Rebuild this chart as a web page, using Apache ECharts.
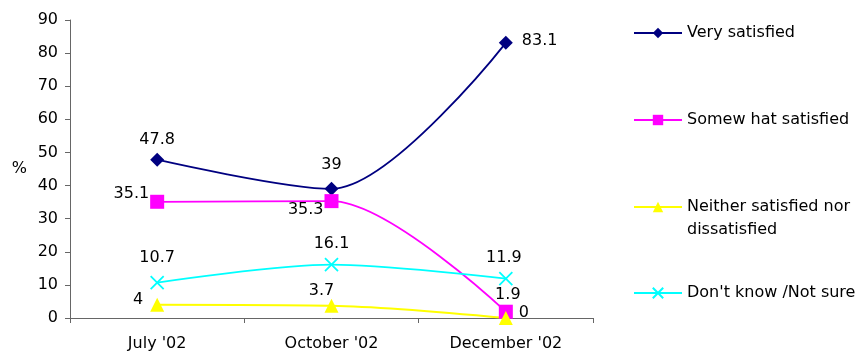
<!DOCTYPE html>
<html>
<head>
<meta charset="utf-8">
<script src="https://cdn.jsdelivr.net/npm/echarts@6/dist/echarts.min.js"></script>
<style>
  html, body { margin: 0; padding: 0; background: #ffffff; }
  #chart { width: 860px; height: 356px; }
</style>
</head>
<body>
<div id="chart"></div>
<script>
// Survey waves
var categories = ["July '02", "October '02", "December '02"];

// Satisfaction shares, %
var verySatisfied = [47.8, 39, 83.1];
var somewhatSatisfied = [35.1, 35.3, 1.9];
var neitherSatisfied = [4, 3.7, 0];
var dontKnow = [10.7, 16.1, 11.9];

var seriesNames = [
  'Very satisfied',
  'Somew hat satisfied',
  'Neither satisfied nor dissatisfied',
  "Don't know /Not sure"
];

var yTicks = { min: 0, max: 90, interval: 10 };

var FONT = '"DejaVu Sans", Verdana, sans-serif';
var FS = 16;
var LW = 1.8;
var crossPath = 'path://M0,0 L10,10 M10,0 L0,10';

// Per-point label placement: [position, distance, offsetX, offsetY]
function buildData(values, places) {
  return values.map(function (v, i) {
    var p = places[i];
    return {
      value: v,
      label: { position: p[0], distance: p[1], offset: [p[2], p[3]] }
    };
  });
}

var chart = echarts.init(document.getElementById('chart'), null, { renderer: 'canvas' });

var labelBase = {
  show: true,
  color: '#000',
  fontSize: FS,
  fontFamily: FONT
};

var legendText = { fontSize: FS, color: '#000', fontFamily: FONT };

// The long legend entry wraps after "nor"; the first line sits beside the icon
var wrapAt = 'Neither satisfied nor';

var option = {
  backgroundColor: '#ffffff',
  animation: false,
  textStyle: { fontFamily: FONT },
  grid: { left: 70, right: 267, top: 20, bottom: 38 },
  legend: [
    { top: 25, data: [seriesNames[0]] },
    { top: 112, data: [seriesNames[1]] },
    {
      top: 199, data: [seriesNames[2]],
      formatter: function (name) { return name.indexOf(wrapAt) === 0 ? wrapAt : name; }
    },
    { top: 285, data: [seriesNames[3]] }
  ].map(function (l) {
    return Object.assign({
      left: 633,
      orient: 'vertical',
      padding: 0,
      itemWidth: 48,
      itemHeight: 13,
      itemGap: 0,
      selectedMode: false,
      textStyle: legendText
    }, l);
  }),
  graphic: [
    {
      type: 'text',
      left: 687,
      top: 222,
      style: {
        text: seriesNames[2].slice(wrapAt.length + 1),
        fill: '#000',
        font: FS + 'px ' + FONT
      }
    }
  ],
  xAxis: {
    type: 'category',
    data: categories,
    boundaryGap: true,
    axisLine: { lineStyle: { color: '#666', width: 1 } },
    axisTick: { show: true, length: 5, inside: false, lineStyle: { color: '#666' } },
    axisLabel: { color: '#000', fontSize: FS, fontFamily: FONT, margin: 18 },
    splitLine: { show: false }
  },
  yAxis: {
    type: 'value',
    min: yTicks.min,
    max: yTicks.max,
    interval: yTicks.interval,
    name: '%',
    nameLocation: 'middle',
    nameRotate: 0,
    nameGap: 43,
    nameTextStyle: { color: '#000', fontSize: FS, fontFamily: FONT },
    axisLine: { show: true, lineStyle: { color: '#666', width: 1 } },
    axisTick: { show: true, length: 5, lineStyle: { color: '#666' } },
    axisLabel: { color: '#000', fontSize: FS, fontFamily: FONT, margin: 12 },
    splitLine: { show: false }
  },
  series: [
    {
      name: seriesNames[0],
      type: 'line',
      smooth: 0.3,
      symbol: 'diamond',
      symbolSize: 14,
      lineStyle: { color: '#000080', width: LW },
      itemStyle: { color: '#000080' },
      label: labelBase,
      data: buildData(verySatisfied, [
        ['top', 5, 0, 0],
        ['top', 9, 0, 0],
        ['right', 9, 0, -2]
      ])
    },
    {
      name: seriesNames[1],
      type: 'line',
      smooth: 0.3,
      symbol: 'rect',
      symbolSize: 14,
      lineStyle: { color: '#ff00ff', width: LW },
      itemStyle: { color: '#ff00ff' },
      label: labelBase,
      data: buildData(somewhatSatisfied, [
        ['left', 1, 0, -8],
        ['left', 1, 0, 9],
        ['top', 2, 2, 0]
      ])
    },
    {
      name: seriesNames[2],
      type: 'line',
      smooth: 0.3,
      symbol: 'triangle',
      symbolSize: 14,
      lineStyle: { color: '#ffff00', width: LW },
      itemStyle: { color: '#ffff00' },
      label: labelBase,
      data: buildData(neitherSatisfied, [
        ['left', 7, 0, -5],
        ['top', 0, -10, 0],
        ['right', 6, 0, -5]
      ])
    },
    {
      name: seriesNames[3],
      type: 'line',
      smooth: 0.3,
      symbol: crossPath,
      symbolSize: 13,
      lineStyle: { color: '#00ffff', width: LW },
      itemStyle: { color: '#00ffff', borderColor: '#00ffff', borderWidth: LW },
      label: labelBase,
      data: buildData(dontKnow, [
        ['top', 9, 0, 0],
        ['top', 5, 0, 0],
        ['top', 5, -2, 0]
      ])
    }
  ]
};

chart.setOption(option);
</script>
</body>
</html>
